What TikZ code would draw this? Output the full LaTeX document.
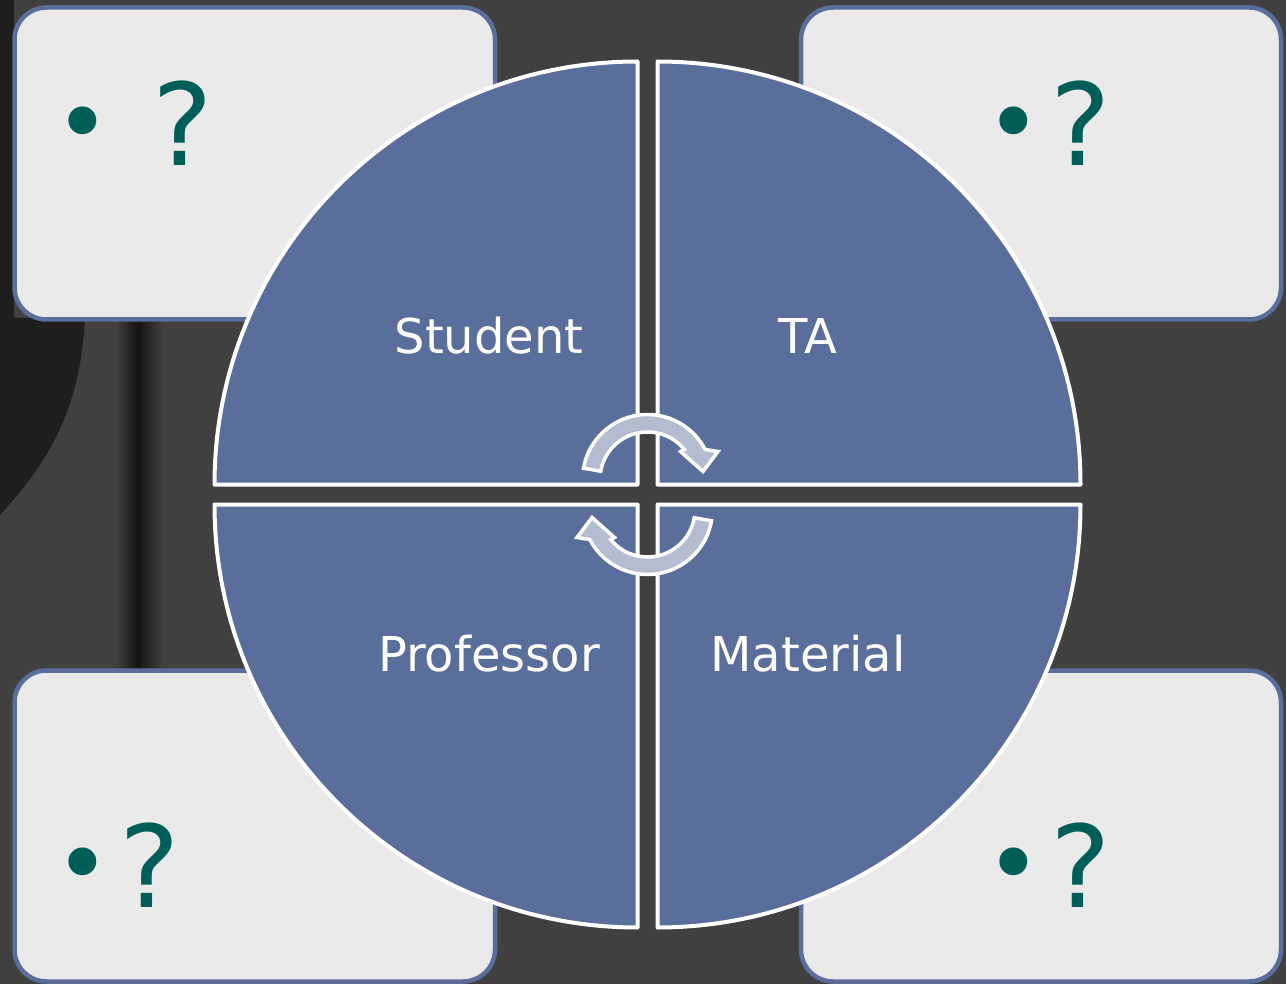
\documentclass[tikz,border=0pt]{standalone}
\usepackage{fontspec}
\setmainfont{DejaVu Sans}
\usetikzlibrary{calc}
\definecolor{bgc}{HTML}{404040}
\definecolor{blobc}{HTML}{1E1E1E}
\definecolor{stripec}{HTML}{131313}
\definecolor{quadc}{HTML}{5A6E9C}
\definecolor{boxc}{HTML}{EAEAEA}
\definecolor{qmarkc}{HTML}{005E58}
\definecolor{arrc}{HTML}{B4BCD0}
\tikzset{
  infobox/.style={draw=quadc, line width=4.5pt, fill=boxc, rounded corners=32pt},
  quadrant/.style={draw=white, line width=4pt, fill=quadc, line join=round},
  quadlabel/.style={text=white, font=\fontsize{48}{58}\selectfont, inner sep=0pt},
  qlabel/.style={text=qmarkc, font=\fontsize{114}{130}\selectfont, inner sep=0pt},
  bulletlabel/.style={text=qmarkc, font=\fontsize{96}{100}\selectfont, inner sep=0pt},
  cyclearrow/.style={fill=arrc, draw=white, line width=3.5pt, line join=miter},
}
\newcommand\mycyclearrow{%
  (-170:65) arc (-170:-27.5:65) -- (70.5,-28) -- (55.5,-8) -- (33,-28) -- (-39.2:47.5) arc (-39.2:-170:47.5) -- cycle}
\begin{document}
\begin{tikzpicture}[x=1pt,y=-1pt]
\useasboundingbox (0,0) rectangle (1286,984);
% background
\fill[bgc] (0,0) rectangle (1286,984);
\fill[blobc] (0,0) rectangle (14,330);
\fill[blobc] (0,318) -- (85,318) .. controls (80,420) and (40,470) .. (0,515) -- cycle;
\shade[left color=bgc, right color=stripec] (116,318) rectangle (138,672);
\shade[left color=stripec, right color=bgc] (138,318) rectangle (162,672);
% info boxes
\draw[infobox] (14.5,7.5) rectangle (495,319.5);
\draw[infobox] (801,7.5) rectangle (1281,319.5);
\draw[infobox] (14.5,670.5) rectangle (495,981.5);
\draw[infobox] (801,670.5) rectangle (1281,981.5);
% quadrants
\draw[quadrant] (637.5,484.5) -- ++(-423,0) arc (180:270:423) -- cycle;
\draw[quadrant] (657.5,484.5) -- ++(0,-423) arc (270:360:423) -- cycle;
\draw[quadrant] (657.5,504.5) -- ++(423,0) arc (0:90:423) -- cycle;
\draw[quadrant] (637.5,504.5) -- ++(0,423) arc (90:180:423) -- cycle;
% labels
\node[quadlabel] (student) at (489,336) {Student};
\node[quadlabel] (ta) at (808,336) {TA};
\node[quadlabel] (professor) at (489,654) {Professor};
\node[quadlabel] (material) at (808,654) {Material};
% cycle arrows
\begin{scope}[shift={(647.5,479.5)}]
\draw[cyclearrow] \mycyclearrow;
\end{scope}
\begin{scope}[shift={(647.5,509.5)}, rotate=180]
\draw[cyclearrow] \mycyclearrow;
\end{scope}
% bullets and question marks
\node[bulletlabel] (b1) at (83,132) {•};
\node[qlabel] (q1) at (183,123) {?};
\node[bulletlabel] (b2) at (1014,132) {•};
\node[qlabel] (q2) at (1081,123) {?};
\node[bulletlabel] (b3) at (83,873) {•};
\node[qlabel] (q3) at (150,865) {?};
\node[bulletlabel] (b4) at (1014,873) {•};
\node[qlabel] (q4) at (1081,865) {?};
\end{tikzpicture}
\end{document}
